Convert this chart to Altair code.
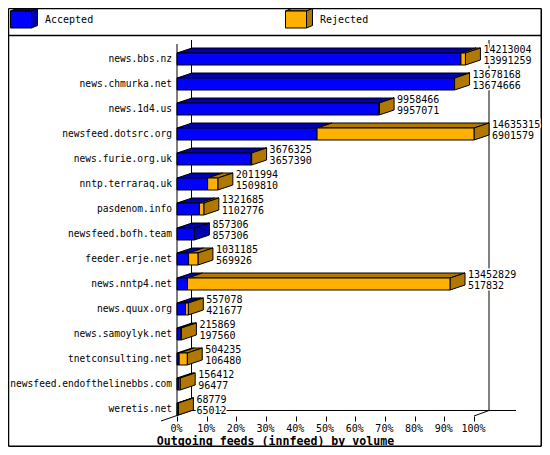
import altair as alt
import pandas as pd

hosts = ["news.bbs.nz", "news.chmurka.net", "news.1d4.us", "newsfeed.dotsrc.org", "news.furie.org.uk",
         "nntp.terraraq.uk", "pasdenom.info", "newsfeed.bofh.team", "feeder.erje.net", "news.nntp4.net",
         "news.quux.org", "news.samoylyk.net", "tnetconsulting.net", "newsfeed.endofthelinebbs.com", "weretis.net"]
offered = [14213004, 13678168, 9958466, 14635315, 3676325, 2011994, 1321685, 857306, 1031185, 13452829,
           557078, 215869, 504235, 156412, 68779]
accepted = [13991259, 13674666, 9957071, 6901579, 3657390, 1509810, 1102776, 857306, 569926, 517832,
            421677, 197560, 106480, 96477, 65012]
series = ["Accepted", "Rejected"]
ticks = [0, 10, 20, 30, 40, 50, 60, 70, 80, 90, 100]
title = "Outgoing feeds (innfeed) by volume"

BLUE, DBLUE, ORANGE, DORANGE = "#0000ff", "#0000b0", "#ffb000", "#b07800"
FONT = "DejaVu Sans Mono"
SVG_W, SVG_H = 534, 439            # canvas size that keeps the page inside the window
ROW = 25
PX, PY, W = 177, 46, 297           # page position of the plot area and its width
H = 370
BOTTOM = PY + H
PCT = W / 100
DX, DY = 15 / PCT, -5 / ROW        # depth of the 3D boxes in data units
HALF = 6 / ROW


def X(px):
    return (px - PX) / PCT


def Y(py):
    return (py - PY) / ROW


maxv = max(offered)
rows = []
for i, (h, o, a) in enumerate(zip(hosts, offered, accepted)):
    rows.append(dict(host=h, i=i, yc=i + 13 / ROW, a=a / maxv * 100, o=o / maxv * 100, ov=str(o), av=str(a)))

front, top, side, text = [], [], [], []


def box(key, x0, x1, yt, yb, f, d, with_side=True, ddx=DX, ddy=DY):
    front.append(dict(x=x0, x2=x1, y=yt, y2=yb, fill=f))
    top.append(dict(key=key, x=x0, x2=x1, y=yt, fill=d))
    top.append(dict(key=key, x=x0 + ddx, x2=x1 + ddx, y=yt + ddy, fill=d))
    if with_side:
        side.append(dict(key=key, x=x1, y=yt, y2=yb, fill=d))
        side.append(dict(key=key, x=x1 + ddx, y=yt + ddy, y2=yb + ddy, fill=d))


for r in rows:
    yt, yb = r["yc"] - HALF, r["yc"] + HALF
    has_rej = r["o"] > r["a"]
    box(f"a{r['i']}", 0, r["a"], yt, yb, BLUE, DBLUE, not has_rej)
    if has_rej:
        box(f"r{r['i']}", r["a"], r["o"], yt, yb, ORANGE, DORANGE)
    lx = r["o"] + DX
    text.append(dict(x=lx, y=r["yc"] - 9 / ROW, t=r["ov"]))
    text.append(dict(x=lx, y=r["yc"] + 2 / ROW, t=r["av"]))

# legend cubes, same construction
legend = []
for name, lx, f, d in [(series[0], 10.5, BLUE, DBLUE), (series[1], 285.5, ORANGE, DORANGE)]:
    box("l" + name, X(lx), X(lx + 21), Y(11), Y(28), f, d, True, 6 / PCT, -2.5 / ROW)
    legend.append(dict(x=X(lx + 34.5), y=Y(20), t=name))

RW = PX + W + 15      # right back wall
BW = BOTTOM - 5.5     # bottom back wall
lines = [
    (PX, 44, PX, BOTTOM), (PX + 14.5, 40, PX + 14.5, BW), (RW, 40, RW, BW),
    (PX + 14.5, BW, RW + 27, BW), (PX - 16, BOTTOM + 5, PX + 14.5, BW), (PX + W, BOTTOM, RW, BW),
]
R, B = 8 + SVG_W - 0.75, 8 + SVG_H - 0.75
frame = [(8.5, 35.5, R, 35.5), (8.5, 8.5, 8.5, B), (8.5, 8.5, R, 8.5), (R, 8.5, R, B), (8.5, B, R, B)]
to_df = lambda seq: pd.DataFrame([dict(x=X(a), y=Y(b), x2=X(c), y2=Y(d)) for a, b, c, d in seq])

xs = alt.Scale(domain=[0, 100], nice=False, zero=False)
ys = alt.Scale(domain=[H / ROW, 0], nice=False, zero=False)
xaxis = alt.Axis(values=ticks, format="d", labelExpr="datum.value + '%'", domain=False, grid=False,
                 tickSize=5, tickColor="black", labelColor="black", labelFont=FONT, labelFontSize=10,
                 labelPadding=2, labelFlush=False, labelOverlap=False, labelOffset=-1,
                 title=title, titleFont=FONT, titleFontSize=11.6, titleFontWeight="bold", titleColor="black",
                 titleX=275 - PX, titleY=19, titleAnchor="middle", titleAlign="center")
ex = alt.X("x:Q", scale=xs, axis=xaxis)
ey = alt.Y("y:Q", scale=ys, axis=None)
fill = alt.Color("fill:N", scale=None)

rule_l = alt.Chart(to_df(lines)).mark_rule(color="black", strokeWidth=1).encode(
    x=ex, y=ey, x2="x2:Q", y2="y2:Q")
rule_f = alt.Chart(to_df(frame)).mark_rule(color="black", strokeWidth=1.5).encode(
    x=ex, y=ey, x2="x2:Q", y2="y2:Q")

tdf = pd.DataFrame(text)
halo = alt.Chart(tdf).mark_text(align="left", baseline="middle", dx=3, font=FONT, fontSize=10,
                                stroke="white", strokeWidth=3, fill="white").encode(x=ex, y=ey, text="t:N")
label = alt.Chart(tdf).mark_text(align="left", baseline="middle", dx=3, font=FONT, fontSize=10,
                                 color="black").encode(x=ex, y=ey, text="t:N")
top_l = alt.Chart(pd.DataFrame(top)).mark_area(orient="horizontal", stroke="black", strokeWidth=1, opacity=1).encode(
    x=ex, x2="x2:Q", y=ey, detail="key:N", color=fill)
side_l = alt.Chart(pd.DataFrame(side)).mark_area(orient="vertical", stroke="black", strokeWidth=1, opacity=1).encode(
    x=ex, y=ey, y2="y2:Q", detail="key:N", color=fill)
front_l = alt.Chart(pd.DataFrame(front)).mark_rect(stroke="black", strokeWidth=1, opacity=1).encode(
    x=ex, x2="x2:Q", y=ey, y2="y2:Q", color=fill)
names = alt.Chart(pd.DataFrame(rows)).mark_text(align="right", baseline="middle", font=FONT, fontSize=9.6,
                                                color="black").encode(
    x=alt.value(-5), y=alt.Y("yc:Q", scale=ys, axis=None), text="host:N")
leg = alt.Chart(pd.DataFrame(legend)).mark_text(align="left", baseline="middle", font=FONT, fontSize=10,
                                                color="black").encode(x=ex, y=ey, text="t:N")

chart = alt.layer(rule_l, rule_f, halo, top_l, side_l, front_l, label, names, leg).properties(
    width=W, height=H,
    padding={"left": PX - 8, "top": PY - 8, "right": SVG_W - (PX - 8) - W, "bottom": SVG_H - (PY - 8) - H},
    autosize=alt.AutoSizeParams(type="none"), background="white",
).configure_view(stroke=None)

chart.save("out.html", embed_options={"renderer": "svg", "actions": False})
